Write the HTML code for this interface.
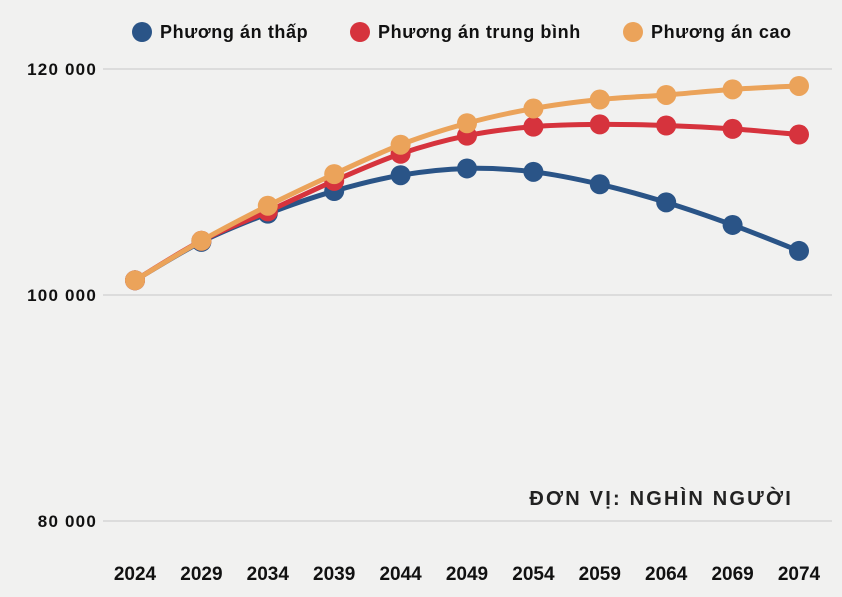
<!DOCTYPE html>
<html><head><meta charset="utf-8"><style>
html,body{margin:0;padding:0;background:#f1f1f0;}
svg{display:block;font-family:"Liberation Sans","DejaVu Sans",sans-serif;}
</style></head><body>
<svg id="chart" width="842" height="597" viewBox="0 0 842 597">
<rect width="842" height="597" fill="#f1f1f0"/>
<g id="legend">
<g><circle cx="142" cy="32" r="10" fill="#2a5487"/><text x="160" y="38" font-size="18" font-weight="bold" letter-spacing="0.6" fill="#111">Phương án thấp</text></g>
<g><circle cx="360" cy="32" r="10" fill="#d6333d"/><text x="378" y="38" font-size="18" font-weight="bold" letter-spacing="0.6" fill="#111">Phương án trung bình</text></g>
<g><circle cx="633" cy="32" r="10" fill="#eba35a"/><text x="651" y="38" font-size="18" font-weight="bold" letter-spacing="0.6" fill="#111">Phương án cao</text></g>
</g>
<g id="grid"></g><g id="xaxis"></g><g id="series"></g>
<text x="793" y="505" text-anchor="end" font-size="20" font-weight="bold" letter-spacing="2.2" fill="#222">ĐƠN VỊ: NGHÌN NGƯỜI</text>
</svg>
<script>
const years = [2024,2029,2034,2039,2044,2049,2054,2059,2064,2069,2074];
const lowValues = [101.3,104.7,107.2,109.2,110.6,111.2,110.9,109.8,108.2,106.2,103.9];
const mediumValues = [101.3,104.8,107.4,110.1,112.5,114.1,114.9,115.1,115.0,114.7,114.2];
const highValues = [101.3,104.8,107.9,110.7,113.3,115.2,116.5,117.3,117.7,118.2,118.5];
const yTicks = [80,100,120];
const yTickLabels = ["80 000","100 000","120 000"];
const NS="http://www.w3.org/2000/svg";
const xS=i=>135+i*(799-135)/(years.length-1);
const yS=v=>521-(v-80)*(226/20);
const mk=(t,a,p)=>{const e=document.createElementNS(NS,t);for(const k in a)e.setAttribute(k,a[k]);p.appendChild(e);return e;};
const grid=document.getElementById('grid');
yTicks.forEach((t,i)=>{
  const l=mk('line',{x1:103,x2:832,y1:yS(t),y2:yS(t),stroke:'#cfcfcf','stroke-width':1.2},grid);
  
  
  const tx=mk('text',{x:97,y:yS(t)+6,'text-anchor':'end','font-size':17,'font-weight':'bold','letter-spacing':1.2,fill:'#111'},grid);
  tx.textContent=yTickLabels[i];
  
  
});
const xa=document.getElementById('xaxis');
years.forEach((y,i)=>{
  const tx=mk('text',{x:xS(i),y:580,'text-anchor':'middle','font-size':19,'font-weight':'bold',fill:'#111'},xa);
  tx.textContent=y;
  
  
});
function smooth(pts){let d=`M${pts[0][0]},${pts[0][1]}`;for(let i=0;i<pts.length-1;i++){const p0=pts[i-1]||pts[i],p1=pts[i],p2=pts[i+1],p3=pts[i+2]||p2;const c1=[p1[0]+(p2[0]-p0[0])/6,p1[1]+(p2[1]-p0[1])/6],c2=[p2[0]-(p3[0]-p1[0])/6,p2[1]-(p3[1]-p1[1])/6];d+=`C${c1[0]},${c1[1]} ${c2[0]},${c2[1]} ${p2[0]},${p2[1]}`;}return d;}
const ser=document.getElementById('series');
[[lowValues,'#2a5487','low'],[mediumValues,'#d6333d','medium'],[highValues,'#eba35a','high']].forEach(([vals,c,n])=>{
  const g=mk('g',{},ser);
  
  
  const pts=vals.map((v,i)=>[xS(i),yS(v)]);
  const p=mk('path',{d:smooth(pts),fill:'none',stroke:c,'stroke-width':5},g);
  
  
  pts.forEach(q=>{const ci=mk('circle',{cx:q[0],cy:q[1],r:10,fill:c},g);
    
    });
});
</script>
</body></html>
